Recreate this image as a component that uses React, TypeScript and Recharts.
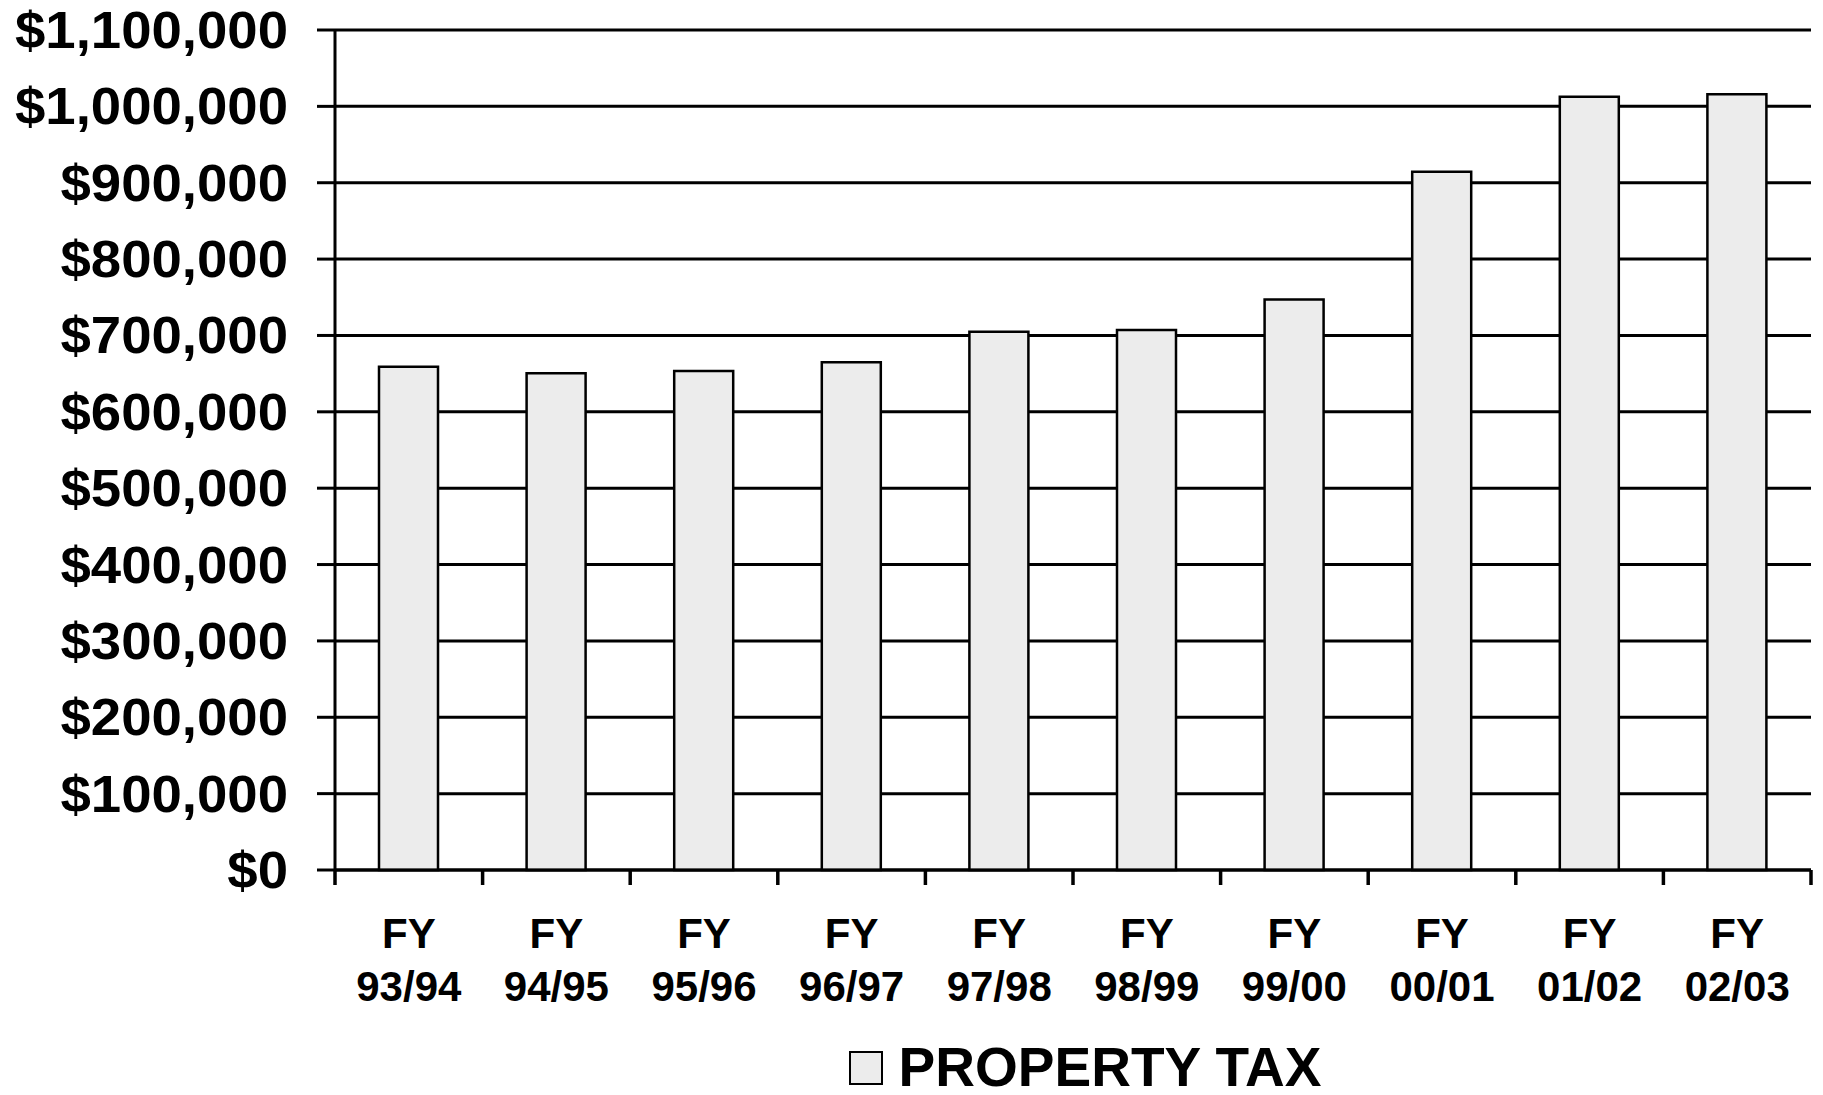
import React from 'react';
import { BarChart, Bar, XAxis, YAxis, CartesianGrid, Legend } from 'recharts';

const categories = ['93/94', '94/95', '95/96', '96/97', '97/98', '98/99', '99/00', '00/01', '01/02', '02/03'];
const propertyTax = [659000, 650500, 653500, 665000, 705000, 707000, 747000, 914500, 1012700, 1015800];
const yTicks = [0, 100000, 200000, 300000, 400000, 500000, 600000, 700000, 800000, 900000, 1000000, 1100000];
const boundaryTicks = [0, 1, 2, 3, 4, 5, 6, 7, 8, 9, 10];
const seriesName = 'PROPERTY TAX';

const data = categories.map((c, i) => ({ year: c, tax: propertyTax[i], pos: i + 0.5 }));

const FONT = '"Liberation Sans", Arial, sans-serif';

const fmt = (v: number) => '$' + v.toLocaleString('en-US');

const YTick = (props: any) => {
  const { x, y, payload } = props;
  return (
    <g transform={`translate(${x},${y}) scale(1.07,1)`}>
      <text x={0} y={0} dy={18} textAnchor="end" fontFamily={FONT} fontWeight="bold" fontSize={51} fill="#000">
        {fmt(payload.value)}
      </text>
    </g>
  );
};

const XTick = (props: any) => {
  const { x, y, payload } = props;
  return (
    <g transform={`translate(${x},${y})`}>
      <text x={0} y={0} textAnchor="middle" fontFamily={FONT} fontWeight="bold" fontSize={42} fill="#000">
        <tspan x={0} dy={69}>FY</tspan>
        <tspan x={0} dy={53}>{payload.value}</tspan>
      </text>
    </g>
  );
};

const EmptyTick = () => <g />;

const LegendContent = () => (
  <div style={{ width: 1476, marginLeft: 347, display: 'flex', justifyContent: 'center', alignItems: 'center', height: 55 }}>
    <div style={{ width: 30, height: 30, background: '#ececec', border: '2.5px solid #000', marginRight: 16 }} />
    <span style={{ fontFamily: FONT, fontWeight: 'bold', fontSize: 55, color: '#000', lineHeight: '55px' }}>{seriesName}</span>
  </div>
);

export default function App() {
  return (
    <div style={{ position: 'absolute', left: 0, top: 0, background: '#fff' }}>
      <BarChart width={1823} height={1095} data={data} margin={{ top: 30, right: 12, left: 0, bottom: 0 }} barSize={59}>
        <CartesianGrid horizontal vertical={false} stroke="#000" strokeWidth={3} strokeOpacity={1} />
        <XAxis
          xAxisId="bounds"
          dataKey="pos"
          type="number"
          domain={[0, 10]}
          allowDataOverflow
          ticks={boundaryTicks}
          interval={0}
          tick={EmptyTick}
          tickSize={15}
          stroke="#000"
          tickLine={{ stroke: '#000', strokeWidth: 3.5 }}
          axisLine={{ stroke: '#000', strokeWidth: 3 }}
          height={1}
        />
        <XAxis
          xAxisId="cat"
          dataKey="year"
          tick={XTick}
          tickLine={false}
          axisLine={false}
          interval={0}
          height={169}
        />
        <YAxis
          domain={[0, 1100000]}
          ticks={yTicks}
          tick={YTick}
          tickSize={18}
          tickMargin={29}
          width={335}
          interval={0}
          stroke="#000"
          tickLine={{ stroke: '#000', strokeWidth: 3 }}
          axisLine={{ stroke: '#000', strokeWidth: 3 }}
        />
        <Legend verticalAlign="bottom" height={55} content={LegendContent} wrapperStyle={{ left: 0, width: 1823 }} />
        <Bar xAxisId="cat" dataKey="tax" name={seriesName} fill="#ececec" stroke="#000" strokeWidth={2.5} isAnimationActive={false} />
      </BarChart>
    </div>
  );
}
